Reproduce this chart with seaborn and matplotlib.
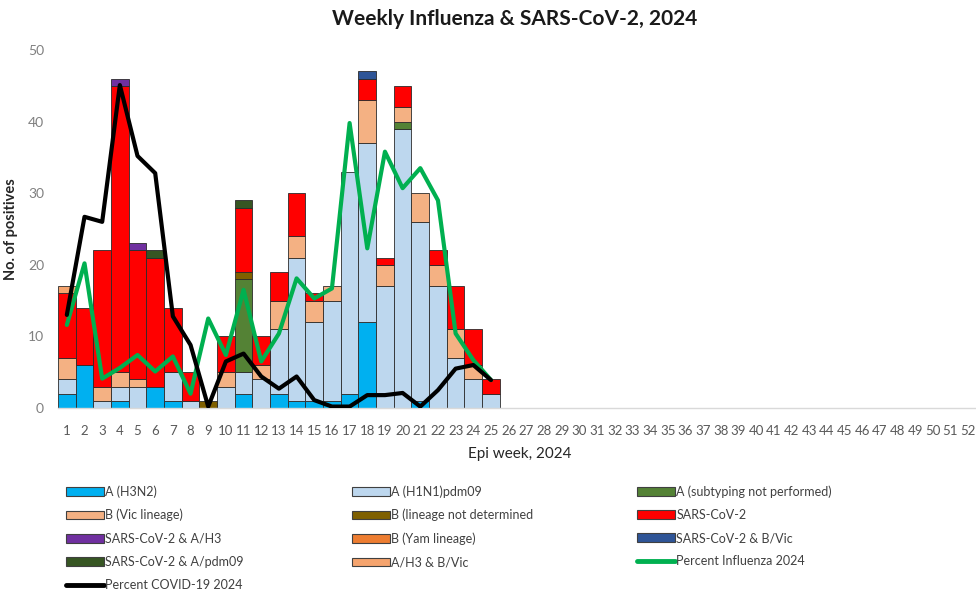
import matplotlib
matplotlib.use("Agg")
import matplotlib.pyplot as plt
from matplotlib.patches import Patch
from matplotlib.lines import Line2D
import seaborn as sns
import numpy as np

# ---------------- data ----------------
weeks = list(range(1, 26))
all_weeks = list(range(1, 53))

h3n2        = [2, 6, 0, 1, 0, 3, 1, 0, 0, 0, 2, 0, 2, 1, 1, 1, 2, 12, 0, 0, 1, 0, 0, 0, 0]
h1n1        = [2, 0, 1, 2, 3, 0, 4, 1, 0, 3, 3, 4, 9, 20, 11, 14, 31, 25, 17, 39, 25, 17, 7, 4, 2]
a_notsub    = [0, 0, 0, 0, 0, 0, 0, 0, 0, 0, 13, 0, 0, 0, 0, 0, 0, 0, 0, 1, 0, 0, 0, 0, 0]
b_vic       = [3, 0, 2, 2, 1, 0, 0, 0, 0, 2, 0, 2, 4, 3, 3, 2, 0, 6, 3, 2, 4, 3, 4, 2, 0]
b_lnd       = [0, 0, 0, 0, 0, 0, 0, 0, 1, 0, 1, 0, 0, 0, 0, 0, 0, 0, 0, 0, 0, 0, 0, 0, 0]
sars        = [9, 8, 19, 40, 18, 18, 9, 4, 0, 5, 9, 4, 4, 6, 1, 0, 0, 3, 1, 3, 0, 2, 6, 5, 2]
sars_h3     = [0, 0, 0, 1, 1, 0, 0, 0, 0, 0, 0, 0, 0, 0, 0, 0, 0, 0, 0, 0, 0, 0, 0, 0, 0]
b_yam       = [0] * 25
sars_bvic   = [0, 0, 0, 0, 0, 0, 0, 0, 0, 0, 0, 0, 0, 0, 0, 0, 0, 1, 0, 0, 0, 0, 0, 0, 0]
sars_pdm    = [0, 0, 0, 0, 0, 1, 0, 0, 0, 0, 1, 0, 0, 0, 0, 0, 0, 0, 0, 0, 0, 0, 0, 0, 0]
h3_bvic     = [1, 0, 0, 0, 0, 0, 0, 0, 0, 0, 0, 0, 0, 0, 0, 0, 0, 0, 0, 0, 0, 0, 0, 0, 0]

pct_flu   = [11.6, 20.2, 4.1, 5.6, 7.4, 5.1, 7.2, 2.0, 12.5, 7.4, 16.5, 6.5, 10.4,
             18.1, 15.3, 16.7, 39.8, 22.3, 35.8, 30.7, 33.5, 29.0, 10.4, 6.7, 3.9]
pct_covid = [13.0, 26.7, 26.0, 45.1, 35.2, 32.8, 12.8, 8.8, 0.2, 6.5, 7.6, 4.4, 2.7,
             4.4, 1.1, 0.2, 0.2, 1.8, 1.8, 2.1, 0.2, 2.5, 5.5, 6.0, 3.9]

series_names = ["A (H3N2)", "A (H1N1)pdm09", "A (subtyping not performed)",
                "B (Vic lineage)", "B (lineage not determined", "SARS-CoV-2",
                "SARS-CoV-2 & A/H3", "B (Yam lineage)", "SARS-CoV-2 & B/Vic",
                "SARS-CoV-2 & A/pdm09", "A/H3 & B/Vic"]
series_vals = [h3n2, h1n1, a_notsub, b_vic, b_lnd, sars, sars_h3, b_yam,
               sars_bvic, sars_pdm, h3_bvic]
series_colors = ["#00B0F0", "#BDD7EE", "#548235", "#F4B183", "#7F6000", "#FF0000",
                 "#7030A0", "#ED7D31", "#2F5597", "#375623", "#F5A46E"]

# ---------------- style ----------------
sns.set_theme(style="white")
plt.rcParams["font.family"] = ["Lato", "DejaVu Sans"]

fig = plt.figure(figsize=(9.76, 5.95), dpi=100)
ax = fig.add_axes([58 / 976, 1 - 408 / 595, 919 / 976, 358 / 595])

bottom = np.zeros(len(weeks))
for name, vals, col in zip(series_names, series_vals, series_colors):
    v = np.array(vals, dtype=float)
    m = v > 0
    if m.any():
        ax.bar(np.array(weeks)[m], v[m], bottom=bottom[m], width=1.0,
               color=col, edgecolor="#2b2b2b", linewidth=0.6, zorder=2)
    bottom += v

sns.lineplot(x=weeks, y=pct_flu, color="#00B050", linewidth=3.0, ax=ax, zorder=4)
sns.lineplot(x=weeks, y=pct_covid, color="black", linewidth=3.0, ax=ax, zorder=5)

ax.set_xlim(0.5, 52.5)
ax.set_ylim(0, 50)
ax.set_xticks(all_weeks)
ax.set_xticklabels([str(w) for w in all_weeks], fontsize=9.5, color="#595959")
ax.set_yticks([0, 10, 20, 30, 40, 50])
ax.set_yticklabels(["0", "10", "20", "30", "40", "50"], fontsize=10, color="#808080")
ax.tick_params(axis="x", length=0, pad=12)
ax.tick_params(axis="y", length=0, pad=10)
for s in ["top", "right", "left"]:
    ax.spines[s].set_visible(False)
ax.spines["bottom"].set_color("#D9D9D9")
ax.spines["bottom"].set_linewidth(1.0)
ax.grid(False)

ax.set_xlabel("Epi week, 2024", fontsize=11, color="#262626")
ax.xaxis.set_label_coords((520 - 58) / 919, -(447 - 408) / 358)
ax.set_ylabel("No. of positives", fontsize=10.5, color="#262626", fontweight="bold")
ax.yaxis.set_label_coords(-(58 - 18) / 919, (408 - 229) / 358)

fig.text(515 / 976, 1 - 19 / 595, "Weekly Influenza & SARS-CoV-2, 2024",
         ha="center", va="center", fontsize=15, fontweight="bold", color="#1a1a1a")

# ---------------- legend (3 fixed columns, row-major order) ----------------
def patch(i):
    return Patch(facecolor=series_colors[i], edgecolor="#404040", linewidth=0.8,
                 label=series_names[i])

flu_handle = Line2D([], [], color="#00B050", linewidth=3.5, label="Percent Influenza 2024")
covid_handle = Line2D([], [], color="black", linewidth=3.5, label="Percent COVID-19 2024")

cols = [
    [patch(0), patch(3), patch(6), patch(9), covid_handle],
    [patch(1), patch(4), patch(7), patch(10)],
    [patch(2), patch(5), patch(8), flu_handle],
]
col_x = [66, 352, 637]
for hs, x in zip(cols, col_x):
    fig.legend(handles=hs, loc="upper left", bbox_to_anchor=(x / 976, 1 - 485 / 595),
               frameon=False, fontsize=9, handlelength=3.0, handleheight=0.7,
               handletextpad=0.15, labelspacing=0.9, borderpad=0, borderaxespad=0,
               labelcolor="#404040")

fig.savefig("out.png", dpi=100)
